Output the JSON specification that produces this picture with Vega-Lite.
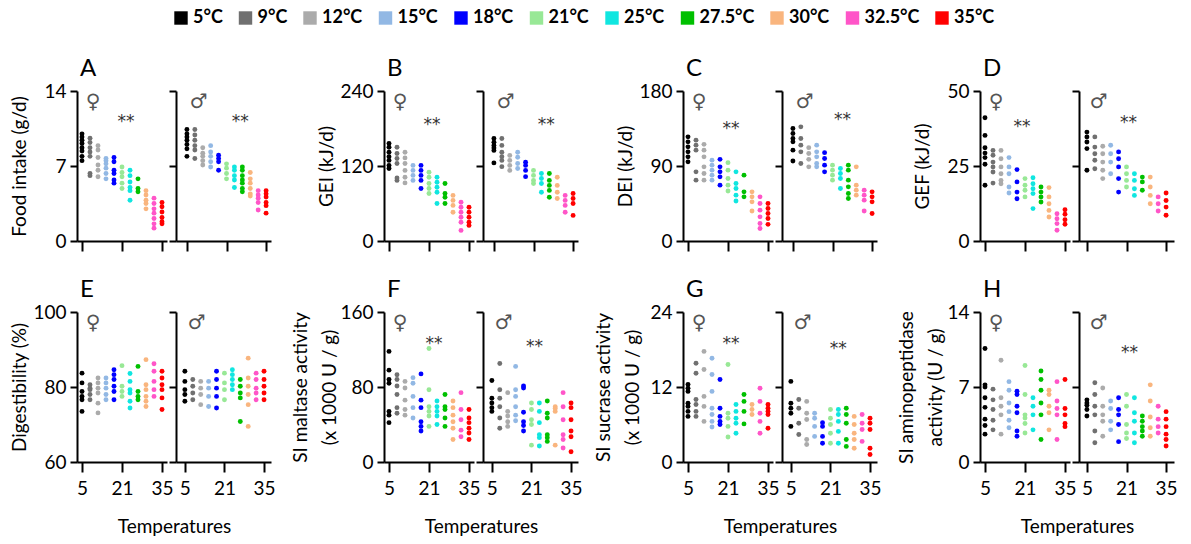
{
  "$schema": "https://vega.github.io/schema/vega-lite/v6.json",
  "background": "white",
  "padding": {"left": 10, "top": 9, "right": 5, "bottom": 5},
  "datasets": {
    "AF": [{"t":5,"v":10.0},{"t":5,"v":9.7},{"t":5,"v":9.4},{"t":5,"v":9.1},{"t":5,"v":8.7},{"t":5,"v":8.4},{"t":5,"v":7.9},{"t":5,"v":7.5},
      {"t":9,"v":9.6},{"t":9,"v":9.2},{"t":9,"v":8.7},{"t":9,"v":8.3},{"t":9,"v":7.9},{"t":9,"v":6.3},{"t":9,"v":6.1},
      {"t":12,"v":8.9},{"t":12,"v":8.5},{"t":12,"v":7.8},{"t":12,"v":7.1},{"t":12,"v":6.6},{"t":12,"v":6.0},
      {"t":15,"v":7.7},{"t":15,"v":7.5},{"t":15,"v":7.2},{"t":15,"v":6.8},{"t":15,"v":6.3},{"t":15,"v":5.8},
      {"t":18,"v":7.8},{"t":18,"v":7.4},{"t":18,"v":6.6},{"t":18,"v":6.3},{"t":18,"v":5.7},{"t":18,"v":5.4},
      {"t":21,"v":6.9},{"t":21,"v":6.4},{"t":21,"v":6.0},{"t":21,"v":5.4},{"t":21,"v":4.9},
      {"t":25,"v":6.6},{"t":25,"v":6.1},{"t":25,"v":5.5},{"t":25,"v":5.0},{"t":25,"v":4.7},{"t":25,"v":3.8},
      {"t":27.5,"v":5.8},{"t":27.5,"v":4.9},{"t":27.5,"v":4.6},
      {"t":30,"v":4.7},{"t":30,"v":4.3},{"t":30,"v":3.8},{"t":30,"v":3.5},{"t":30,"v":3.0},
      {"t":32.5,"v":4.0},{"t":32.5,"v":3.5},{"t":32.5,"v":3.0},{"t":32.5,"v":2.6},{"t":32.5,"v":2.1},{"t":32.5,"v":1.6},{"t":32.5,"v":1.2},
      {"t":35,"v":3.6},{"t":35,"v":3.2},{"t":35,"v":2.7},{"t":35,"v":2.2},{"t":35,"v":1.8},{"t":35,"v":1.6}],
    "AM": [{"t":5,"v":10.4},{"t":5,"v":10.0},{"t":5,"v":9.7},{"t":5,"v":9.4},{"t":5,"v":9.0},{"t":5,"v":8.6},{"t":5,"v":7.9},
      {"t":9,"v":10.4},{"t":9,"v":9.9},{"t":9,"v":9.4},{"t":9,"v":8.9},{"t":9,"v":8.5},{"t":9,"v":7.7},
      {"t":12,"v":8.7},{"t":12,"v":8.2},{"t":12,"v":7.9},{"t":12,"v":7.5},{"t":12,"v":7.1},
      {"t":15,"v":8.9},{"t":15,"v":8.3},{"t":15,"v":7.9},{"t":15,"v":7.4},{"t":15,"v":6.9},
      {"t":18,"v":8.0},{"t":18,"v":7.7},{"t":18,"v":7.4},{"t":18,"v":6.6},
      {"t":21,"v":7.2},{"t":21,"v":6.8},{"t":21,"v":6.3},{"t":21,"v":5.8},
      {"t":25,"v":6.9},{"t":25,"v":6.6},{"t":25,"v":6.1},{"t":25,"v":5.7},{"t":25,"v":5.0},
      {"t":27.5,"v":6.9},{"t":27.5,"v":6.6},{"t":27.5,"v":6.1},{"t":27.5,"v":5.7},{"t":27.5,"v":5.4},{"t":27.5,"v":4.9},{"t":27.5,"v":4.6},
      {"t":30,"v":6.4},{"t":30,"v":5.8},{"t":30,"v":5.4},{"t":30,"v":4.9},{"t":30,"v":4.4},{"t":30,"v":4.2},
      {"t":32.5,"v":4.7},{"t":32.5,"v":4.3},{"t":32.5,"v":4.0},{"t":32.5,"v":3.6},{"t":32.5,"v":2.9},
      {"t":35,"v":4.7},{"t":35,"v":4.4},{"t":35,"v":4.1},{"t":35,"v":3.6},{"t":35,"v":3.3},{"t":35,"v":2.6}],
    "BF": [{"t":5,"v":156},{"t":5,"v":150},{"t":5,"v":142},{"t":5,"v":135},{"t":5,"v":129},{"t":5,"v":121},{"t":5,"v":116},
      {"t":9,"v":150},{"t":9,"v":140},{"t":9,"v":132},{"t":9,"v":124},{"t":9,"v":101},{"t":9,"v":97},
      {"t":12,"v":142},{"t":12,"v":133},{"t":12,"v":124},{"t":12,"v":113},{"t":12,"v":102},{"t":12,"v":93},
      {"t":15,"v":121},{"t":15,"v":113},{"t":15,"v":105},{"t":15,"v":97},
      {"t":18,"v":121},{"t":18,"v":113},{"t":18,"v":105},{"t":18,"v":97},{"t":18,"v":84},
      {"t":21,"v":110},{"t":21,"v":102},{"t":21,"v":92},{"t":21,"v":84},{"t":21,"v":76},
      {"t":25,"v":102},{"t":25,"v":94},{"t":25,"v":86},{"t":25,"v":78},{"t":25,"v":60},
      {"t":27.5,"v":92},{"t":27.5,"v":76},{"t":27.5,"v":70},{"t":27.5,"v":60},
      {"t":30,"v":73},{"t":30,"v":65},{"t":30,"v":57},{"t":30,"v":46},
      {"t":32.5,"v":62},{"t":32.5,"v":54},{"t":32.5,"v":46},{"t":32.5,"v":38},{"t":32.5,"v":30},{"t":32.5,"v":17},
      {"t":35,"v":54},{"t":35,"v":46},{"t":35,"v":38},{"t":35,"v":30},{"t":35,"v":25}],
    "BM": [{"t":5,"v":164},{"t":5,"v":158},{"t":5,"v":153},{"t":5,"v":149},{"t":5,"v":145},{"t":5,"v":125},
      {"t":9,"v":164},{"t":9,"v":153},{"t":9,"v":142},{"t":9,"v":135},{"t":9,"v":129},{"t":9,"v":119},
      {"t":12,"v":137},{"t":12,"v":129},{"t":12,"v":121},{"t":12,"v":113},
      {"t":15,"v":142},{"t":15,"v":134},{"t":15,"v":124},{"t":15,"v":116},
      {"t":18,"v":126},{"t":18,"v":121},{"t":18,"v":113},{"t":18,"v":103},
      {"t":21,"v":113},{"t":21,"v":105},{"t":21,"v":97},{"t":21,"v":92},
      {"t":25,"v":108},{"t":25,"v":100},{"t":25,"v":92},{"t":25,"v":78},
      {"t":27.5,"v":108},{"t":27.5,"v":97},{"t":27.5,"v":89},{"t":27.5,"v":81},{"t":27.5,"v":70},
      {"t":30,"v":102},{"t":30,"v":89},{"t":30,"v":78},{"t":30,"v":68},
      {"t":32.5,"v":73},{"t":32.5,"v":65},{"t":32.5,"v":57},{"t":32.5,"v":46},
      {"t":35,"v":76},{"t":35,"v":68},{"t":35,"v":60},{"t":35,"v":41}],
    "CF": [{"t":5,"v":125},{"t":5,"v":119},{"t":5,"v":113},{"t":5,"v":107},{"t":5,"v":101},{"t":5,"v":95},
      {"t":9,"v":121},{"t":9,"v":115},{"t":9,"v":109},{"t":9,"v":83},{"t":9,"v":73},
      {"t":12,"v":116},{"t":12,"v":109},{"t":12,"v":101},{"t":12,"v":89},{"t":12,"v":81},{"t":12,"v":73},
      {"t":15,"v":97},{"t":15,"v":91},{"t":15,"v":85},{"t":15,"v":79},{"t":15,"v":73},
      {"t":18,"v":98},{"t":18,"v":89},{"t":18,"v":83},{"t":18,"v":77},{"t":18,"v":67},
      {"t":21,"v":94},{"t":21,"v":85},{"t":21,"v":75},{"t":21,"v":67},{"t":21,"v":60},
      {"t":25,"v":83},{"t":25,"v":69},{"t":25,"v":63},{"t":25,"v":55},{"t":25,"v":48},
      {"t":27.5,"v":79},{"t":27.5,"v":59},{"t":27.5,"v":53},
      {"t":30,"v":59},{"t":30,"v":53},{"t":30,"v":47},{"t":30,"v":36},
      {"t":32.5,"v":53},{"t":32.5,"v":45},{"t":32.5,"v":37},{"t":32.5,"v":29},{"t":32.5,"v":21},{"t":32.5,"v":15},
      {"t":35,"v":45},{"t":35,"v":39},{"t":35,"v":33},{"t":35,"v":27},{"t":35,"v":20}],
    "CM": [{"t":5,"v":135},{"t":5,"v":129},{"t":5,"v":123},{"t":5,"v":119},{"t":5,"v":109},{"t":5,"v":96},
      {"t":9,"v":137},{"t":9,"v":123},{"t":9,"v":115},{"t":9,"v":107},{"t":9,"v":93},
      {"t":12,"v":112},{"t":12,"v":105},{"t":12,"v":98},{"t":12,"v":89},
      {"t":15,"v":115},{"t":15,"v":107},{"t":15,"v":101},{"t":15,"v":93},{"t":15,"v":89},
      {"t":18,"v":106},{"t":18,"v":99},{"t":18,"v":91},{"t":18,"v":83},
      {"t":21,"v":91},{"t":21,"v":85},{"t":21,"v":79},{"t":21,"v":73},
      {"t":25,"v":87},{"t":25,"v":81},{"t":25,"v":75},{"t":25,"v":63},
      {"t":27.5,"v":91},{"t":27.5,"v":85},{"t":27.5,"v":73},{"t":27.5,"v":65},{"t":27.5,"v":57},{"t":27.5,"v":51},
      {"t":30,"v":89},{"t":30,"v":67},{"t":30,"v":61},{"t":30,"v":55},
      {"t":32.5,"v":61},{"t":32.5,"v":55},{"t":32.5,"v":49},{"t":32.5,"v":36},
      {"t":35,"v":59},{"t":35,"v":53},{"t":35,"v":47},{"t":35,"v":33}],
    "DF": [{"t":5,"v":41.1},{"t":5,"v":35.2},{"t":5,"v":31.1},{"t":5,"v":29.3},{"t":5,"v":27.8},{"t":5,"v":25.6},{"t":5,"v":18.6},
      {"t":9,"v":30.2},{"t":9,"v":28.6},{"t":9,"v":26.3},{"t":9,"v":24.7},{"t":9,"v":23.0},{"t":9,"v":19.3},
      {"t":12,"v":30.2},{"t":12,"v":27.4},{"t":12,"v":24.7},{"t":12,"v":22.4},{"t":12,"v":20.2},{"t":12,"v":19.1},
      {"t":15,"v":27.8},{"t":15,"v":24.7},{"t":15,"v":22.4},{"t":15,"v":18.0},{"t":15,"v":16.0},
      {"t":18,"v":23.8},{"t":18,"v":19.7},{"t":18,"v":16.3},{"t":18,"v":14.1},
      {"t":21,"v":20.8},{"t":21,"v":18.6},{"t":21,"v":16.9},{"t":21,"v":14.7},
      {"t":25,"v":21.1},{"t":25,"v":19.1},{"t":25,"v":17.4},{"t":25,"v":15.8},{"t":25,"v":10.8},
      {"t":27.5,"v":18.0},{"t":27.5,"v":16.3},{"t":27.5,"v":14.7},{"t":27.5,"v":13.0},
      {"t":30,"v":17.8},{"t":30,"v":14.7},{"t":30,"v":12.4},{"t":30,"v":10.2},{"t":30,"v":8.0},
      {"t":32.5,"v":9.1},{"t":32.5,"v":7.4},{"t":32.5,"v":5.8},{"t":32.5,"v":3.6},
      {"t":35,"v":10.4},{"t":35,"v":8.9},{"t":35,"v":7.1},{"t":35,"v":5.6}],
    "DM": [{"t":5,"v":36.3},{"t":5,"v":34.7},{"t":5,"v":33.0},{"t":5,"v":30.8},{"t":5,"v":23.6},
      {"t":9,"v":34.7},{"t":9,"v":31.3},{"t":9,"v":29.1},{"t":9,"v":26.9},{"t":9,"v":24.1},
      {"t":12,"v":31.6},{"t":12,"v":29.1},{"t":12,"v":26.3},{"t":12,"v":23.6},{"t":12,"v":20.8},
      {"t":15,"v":31.9},{"t":15,"v":29.1},{"t":15,"v":26.3},{"t":15,"v":22.4},
      {"t":18,"v":29.7},{"t":18,"v":27.4},{"t":18,"v":24.7},{"t":18,"v":20.8},{"t":18,"v":16.3},
      {"t":21,"v":24.7},{"t":21,"v":22.4},{"t":21,"v":20.2},{"t":21,"v":18.0},
      {"t":25,"v":22.4},{"t":25,"v":20.2},{"t":25,"v":17.4},{"t":25,"v":15.2},
      {"t":27.5,"v":21.3},{"t":27.5,"v":19.7},{"t":27.5,"v":16.9},
      {"t":30,"v":21.3},{"t":30,"v":18.0},{"t":30,"v":15.2},{"t":30,"v":12.4},
      {"t":32.5,"v":14.7},{"t":32.5,"v":12.4},{"t":32.5,"v":10.0},
      {"t":35,"v":16.0},{"t":35,"v":13.5},{"t":35,"v":11.3},{"t":35,"v":8.6}],
    "EF": [{"t":5,"v":83.7},{"t":5,"v":81.1},{"t":5,"v":78.8},{"t":5,"v":77.5},{"t":5,"v":76.6},{"t":5,"v":73.5},
      {"t":9,"v":80.6},{"t":9,"v":79.7},{"t":9,"v":79.3},{"t":9,"v":78.0},{"t":9,"v":76.6},
      {"t":12,"v":82.4},{"t":12,"v":81.1},{"t":12,"v":79.7},{"t":12,"v":78.4},{"t":12,"v":75.7},{"t":12,"v":73.1},
      {"t":15,"v":82.4},{"t":15,"v":81.1},{"t":15,"v":79.7},{"t":15,"v":78.0},{"t":15,"v":76.6},
      {"t":18,"v":84.6},{"t":18,"v":83.3},{"t":18,"v":82.0},{"t":18,"v":80.2},{"t":18,"v":78.8},{"t":18,"v":76.6},
      {"t":21,"v":85.7},{"t":21,"v":80.2},{"t":21,"v":78.8},{"t":21,"v":77.5},
      {"t":25,"v":83.6},{"t":25,"v":81.5},{"t":25,"v":79.3},{"t":25,"v":78.4},{"t":25,"v":76.2},{"t":25,"v":74.4},
      {"t":27.5,"v":85.5},{"t":27.5,"v":78.8},{"t":27.5,"v":77.5},{"t":27.5,"v":76.6},
      {"t":30,"v":87.3},{"t":30,"v":80.6},{"t":30,"v":79.3},{"t":30,"v":77.5},{"t":30,"v":76.2},{"t":30,"v":74.8},
      {"t":32.5,"v":86.2},{"t":32.5,"v":84.2},{"t":32.5,"v":81.5},{"t":32.5,"v":79.3},{"t":32.5,"v":77.5},
      {"t":35,"v":84.2},{"t":35,"v":82.4},{"t":35,"v":80.6},{"t":35,"v":79.3},{"t":35,"v":77.1},{"t":35,"v":74.0}],
    "EM": [{"t":5,"v":84.2},{"t":5,"v":81.5},{"t":5,"v":79.3},{"t":5,"v":78.0},{"t":5,"v":76.2},
      {"t":9,"v":82.0},{"t":9,"v":80.2},{"t":9,"v":78.4},{"t":9,"v":76.6},
      {"t":12,"v":81.5},{"t":12,"v":79.7},{"t":12,"v":78.0},{"t":12,"v":75.3},
      {"t":15,"v":81.5},{"t":15,"v":79.7},{"t":15,"v":77.5},{"t":15,"v":74.8},
      {"t":18,"v":84.2},{"t":18,"v":82.0},{"t":18,"v":79.7},{"t":18,"v":77.5},{"t":18,"v":74.4},
      {"t":21,"v":83.7},{"t":21,"v":81.1},{"t":21,"v":79.3},{"t":21,"v":76.6},
      {"t":25,"v":84.6},{"t":25,"v":83.3},{"t":25,"v":82.0},{"t":25,"v":80.6},{"t":25,"v":79.3},
      {"t":27.5,"v":82.0},{"t":27.5,"v":80.2},{"t":27.5,"v":78.4},{"t":27.5,"v":77.1},{"t":27.5,"v":70.8},
      {"t":30,"v":87.7},{"t":30,"v":82.4},{"t":30,"v":80.2},{"t":30,"v":78.0},{"t":30,"v":75.3},{"t":30,"v":69.5},
      {"t":32.5,"v":83.7},{"t":32.5,"v":82.0},{"t":32.5,"v":79.7},{"t":32.5,"v":78.4},{"t":32.5,"v":76.6},
      {"t":35,"v":84.2},{"t":35,"v":82.0},{"t":35,"v":80.2},{"t":35,"v":78.4},{"t":35,"v":76.6}],
    "FF": [{"t":5,"v":118},{"t":5,"v":98},{"t":5,"v":88},{"t":5,"v":84},{"t":5,"v":54},{"t":5,"v":50},{"t":5,"v":42},
      {"t":9,"v":93},{"t":9,"v":88},{"t":9,"v":81},{"t":9,"v":72},{"t":9,"v":58},{"t":9,"v":52},
      {"t":12,"v":86},{"t":12,"v":79},{"t":12,"v":66},{"t":12,"v":56},{"t":12,"v":50},
      {"t":15,"v":90},{"t":15,"v":84},{"t":15,"v":70},{"t":15,"v":58},{"t":15,"v":47},
      {"t":18,"v":94},{"t":18,"v":66},{"t":18,"v":58},{"t":18,"v":43},{"t":18,"v":38},{"t":18,"v":33},
      {"t":21,"v":121},{"t":21,"v":77},{"t":21,"v":59},{"t":21,"v":54},{"t":21,"v":49},{"t":21,"v":38},
      {"t":25,"v":65},{"t":25,"v":59},{"t":25,"v":54},{"t":25,"v":49},{"t":25,"v":40},
      {"t":27.5,"v":72},{"t":27.5,"v":59},{"t":27.5,"v":56},{"t":27.5,"v":47},{"t":27.5,"v":38},
      {"t":30,"v":65},{"t":30,"v":58},{"t":30,"v":50},{"t":30,"v":43},{"t":30,"v":36},{"t":30,"v":24},
      {"t":32.5,"v":74},{"t":32.5,"v":56},{"t":32.5,"v":45},{"t":32.5,"v":34},{"t":32.5,"v":27},
      {"t":35,"v":56},{"t":35,"v":47},{"t":35,"v":42},{"t":35,"v":36},{"t":35,"v":31},{"t":35,"v":24}],
    "FM": [{"t":5,"v":87},{"t":5,"v":68},{"t":5,"v":63},{"t":5,"v":58},{"t":5,"v":54},
      {"t":9,"v":105},{"t":9,"v":77},{"t":9,"v":68},{"t":9,"v":59},{"t":9,"v":47},{"t":9,"v":36},
      {"t":12,"v":74},{"t":12,"v":54},{"t":12,"v":49},{"t":12,"v":43},{"t":12,"v":38},
      {"t":15,"v":102},{"t":15,"v":77},{"t":15,"v":70},{"t":15,"v":59},{"t":15,"v":50},{"t":15,"v":44},
      {"t":18,"v":81},{"t":18,"v":79},{"t":18,"v":53},{"t":18,"v":43},{"t":18,"v":39},{"t":18,"v":33},
      {"t":21,"v":63},{"t":21,"v":56},{"t":21,"v":45},{"t":21,"v":40},{"t":21,"v":18},
      {"t":25,"v":63},{"t":25,"v":54},{"t":25,"v":42},{"t":25,"v":29},{"t":25,"v":26},{"t":25,"v":17},
      {"t":27.5,"v":65},{"t":27.5,"v":52},{"t":27.5,"v":47},{"t":27.5,"v":29},{"t":27.5,"v":26},{"t":27.5,"v":22},
      {"t":30,"v":59},{"t":30,"v":57},{"t":30,"v":54},{"t":30,"v":18},
      {"t":32.5,"v":74},{"t":32.5,"v":59},{"t":32.5,"v":45},{"t":32.5,"v":29},{"t":32.5,"v":24},{"t":32.5,"v":15},
      {"t":35,"v":63},{"t":35,"v":58},{"t":35,"v":45},{"t":35,"v":33},{"t":35,"v":27},{"t":35,"v":11}],
    "GF": [{"t":5,"v":12.4},{"t":5,"v":11.8},{"t":5,"v":11.3},{"t":5,"v":9.4},{"t":5,"v":8.9},{"t":5,"v":8.1},{"t":5,"v":7.3},
      {"t":9,"v":15.8},{"t":9,"v":14.2},{"t":9,"v":10.0},{"t":9,"v":9.2},{"t":9,"v":8.1},{"t":9,"v":7.3},
      {"t":12,"v":17.7},{"t":12,"v":14.8},{"t":12,"v":10.5},{"t":12,"v":8.9},{"t":12,"v":6.5},
      {"t":15,"v":16.6},{"t":15,"v":14.0},{"t":15,"v":11.3},{"t":15,"v":8.6},{"t":15,"v":7.6},{"t":15,"v":6.5},{"t":15,"v":5.6},
      {"t":18,"v":13.2},{"t":18,"v":8.6},{"t":18,"v":7.3},{"t":18,"v":6.5},{"t":18,"v":6.0},
      {"t":21,"v":15.6},{"t":21,"v":7.8},{"t":21,"v":7.0},{"t":21,"v":5.7},{"t":21,"v":4.0},
      {"t":25,"v":9.2},{"t":25,"v":8.1},{"t":25,"v":7.0},{"t":25,"v":6.2},{"t":25,"v":4.6},
      {"t":27.5,"v":10.8},{"t":27.5,"v":9.7},{"t":27.5,"v":8.1},{"t":27.5,"v":6.1},
      {"t":30,"v":9.2},{"t":30,"v":8.4},{"t":30,"v":7.6},
      {"t":32.5,"v":11.8},{"t":32.5,"v":9.7},{"t":32.5,"v":7.8},{"t":32.5,"v":6.5},{"t":32.5,"v":4.6},
      {"t":35,"v":9.2},{"t":35,"v":8.6},{"t":35,"v":8.1},{"t":35,"v":7.6},{"t":35,"v":5.4}],
    "GM": [{"t":5,"v":12.9},{"t":5,"v":9.4},{"t":5,"v":8.6},{"t":5,"v":7.8},{"t":5,"v":5.7},
      {"t":9,"v":10.0},{"t":9,"v":8.6},{"t":9,"v":6.2},{"t":9,"v":4.4},
      {"t":12,"v":9.7},{"t":12,"v":7.8},{"t":12,"v":6.8},{"t":12,"v":3.6},{"t":12,"v":2.8},
      {"t":15,"v":7.8},{"t":15,"v":7.0},{"t":15,"v":5.7},{"t":15,"v":4.1},
      {"t":18,"v":6.3},{"t":18,"v":5.7},{"t":18,"v":4.1},{"t":18,"v":3.0},
      {"t":21,"v":8.4},{"t":21,"v":7.0},{"t":21,"v":6.0},{"t":21,"v":4.6},{"t":21,"v":3.0},
      {"t":25,"v":8.4},{"t":25,"v":7.6},{"t":25,"v":6.5},{"t":25,"v":4.9},{"t":25,"v":3.0},
      {"t":27.5,"v":8.6},{"t":27.5,"v":7.6},{"t":27.5,"v":6.2},{"t":27.5,"v":3.6},{"t":27.5,"v":2.5},
      {"t":30,"v":7.3},{"t":30,"v":6.0},{"t":30,"v":4.6},{"t":30,"v":3.6},{"t":30,"v":2.2},
      {"t":32.5,"v":7.6},{"t":32.5,"v":6.2},{"t":32.5,"v":5.2},{"t":32.5,"v":3.3},
      {"t":35,"v":7.0},{"t":35,"v":6.2},{"t":35,"v":5.2},{"t":35,"v":2.2},{"t":35,"v":1.2}],
    "HF": [{"t":5,"v":10.6},{"t":5,"v":7.2},{"t":5,"v":7.0},{"t":5,"v":6.0},{"t":5,"v":5.1},{"t":5,"v":4.0},{"t":5,"v":3.4},{"t":5,"v":2.6},
      {"t":9,"v":6.8},{"t":9,"v":5.8},{"t":9,"v":4.9},{"t":9,"v":3.9},{"t":9,"v":3.0},
      {"t":12,"v":9.5},{"t":12,"v":6.0},{"t":12,"v":5.2},{"t":12,"v":4.4},{"t":12,"v":2.6},
      {"t":15,"v":7.5},{"t":15,"v":6.7},{"t":15,"v":5.5},{"t":15,"v":4.7},{"t":15,"v":3.9},{"t":15,"v":3.2},
      {"t":18,"v":6.6},{"t":18,"v":6.3},{"t":18,"v":5.2},{"t":18,"v":4.6},{"t":18,"v":2.9},{"t":18,"v":2.4},
      {"t":21,"v":9.0},{"t":21,"v":6.3},{"t":21,"v":4.4},{"t":21,"v":4.1},{"t":21,"v":3.6},{"t":21,"v":2.7},
      {"t":25,"v":6.0},{"t":25,"v":5.2},{"t":25,"v":4.4},{"t":25,"v":3.0},
      {"t":27.5,"v":8.5},{"t":27.5,"v":7.7},{"t":27.5,"v":6.7},{"t":27.5,"v":5.5},{"t":27.5,"v":4.4},{"t":27.5,"v":2.1},
      {"t":30,"v":6.7},{"t":30,"v":6.3},{"t":30,"v":5.2},{"t":30,"v":4.6},{"t":30,"v":3.0},
      {"t":32.5,"v":7.5},{"t":32.5,"v":5.7},{"t":32.5,"v":5.0},{"t":32.5,"v":4.4},{"t":32.5,"v":2.1},
      {"t":35,"v":7.7},{"t":35,"v":5.0},{"t":35,"v":4.4},{"t":35,"v":3.6},{"t":35,"v":3.3}],
    "HM": [{"t":5,"v":5.8},{"t":5,"v":5.5},{"t":5,"v":5.3},{"t":5,"v":4.9},{"t":5,"v":4.3},
      {"t":9,"v":7.4},{"t":9,"v":6.3},{"t":9,"v":5.2},{"t":9,"v":4.4},{"t":9,"v":2.9},{"t":9,"v":1.8},
      {"t":12,"v":6.9},{"t":12,"v":5.2},{"t":12,"v":4.4},{"t":12,"v":3.8},{"t":12,"v":2.4},
      {"t":15,"v":5.7},{"t":15,"v":5.0},{"t":15,"v":3.8},{"t":15,"v":3.0},
      {"t":18,"v":6.0},{"t":18,"v":4.9},{"t":18,"v":4.4},{"t":18,"v":3.5},{"t":18,"v":1.9},
      {"t":21,"v":6.3},{"t":21,"v":5.2},{"t":21,"v":3.5},{"t":21,"v":2.7},{"t":21,"v":2.2},
      {"t":25,"v":6.0},{"t":25,"v":4.6},{"t":25,"v":3.8},{"t":25,"v":2.7},{"t":25,"v":1.8},
      {"t":27.5,"v":4.3},{"t":27.5,"v":3.8},{"t":27.5,"v":3.3},{"t":27.5,"v":2.9},{"t":27.5,"v":2.4},
      {"t":30,"v":7.2},{"t":30,"v":5.7},{"t":30,"v":4.2},{"t":30,"v":3.2},{"t":30,"v":2.4},
      {"t":32.5,"v":5.2},{"t":32.5,"v":4.0},{"t":32.5,"v":3.3},{"t":32.5,"v":2.7},
      {"t":35,"v":4.7},{"t":35,"v":4.0},{"t":35,"v":3.3},{"t":35,"v":2.6},{"t":35,"v":2.1},{"t":35,"v":1.5}]
  },
  "columns": 15,
  "spacing": {"row": 71, "column": 0},
  "bounds": "flush",
  "align": "each",
  "concat": [
    {"width": 90, "height": 150, "title": "A", "layer": [
      {"data": {"name": "AF"}, "mark": "point", "encoding": {
        "x": {"field": "t", "type": "ordinal", "axis": {"values": [5, 21, 35], "labels": false, "title": null}},
        "y": {"field": "v", "type": "quantitative", "scale": {"domain": [0, 14]}, "axis": {"values": [0, 7, 14], "title": "Food intake (g/d)"}},
        "color": {"field": "t", "type": "ordinal", "legend": {"orient": "none", "legendX": 95, "legendY": -82, "direction": "horizontal", "title": null, "labelExpr": "datum.label + '°C'"}}}},
      {"data": {"values": [{}]}, "mark": {"type": "text", "text": "♀", "dx": 3}, "encoding": {"x": {"datum": 9, "type": "ordinal"}, "y": {"datum": 13, "type": "quantitative"}}},
      {"data": {"values": [{}]}, "mark": {"type": "text", "text": "**", "dx": 4, "dy": 5, "fontSize": 17, "color": "#333333"}, "encoding": {"x": {"datum": 21, "type": "ordinal"}, "y": {"datum": 11.55, "type": "quantitative"}}}
    ]},
    {"width": 9, "height": 150, "data": {"values": []}, "mark": "point"},
    {"width": 95, "height": 150, "layer": [
      {"data": {"name": "AM"}, "mark": "point", "encoding": {
        "x": {"field": "t", "type": "ordinal", "scale": {"padding": 1.0, "align": 0.69}, "axis": {"values": [5, 21, 35], "labels": false, "title": null}},
        "y": {"field": "v", "type": "quantitative", "scale": {"domain": [0, 14]}, "axis": {"values": [0, 7, 14], "labels": false, "title": null}},
        "color": {"field": "t", "type": "ordinal", "legend": {"orient": "none", "legendX": 95, "legendY": -82, "direction": "horizontal", "title": null, "labelExpr": "datum.label + '°C'"}}}},
      {"data": {"values": [{}]}, "mark": {"type": "text", "text": "♂", "dx": 4}, "encoding": {"x": {"datum": 9, "type": "ordinal"}, "y": {"datum": 13, "type": "quantitative"}}},
      {"data": {"values": [{}]}, "mark": {"type": "text", "text": "**", "dx": -2, "dy": 5, "fontSize": 17, "color": "#333333"}, "encoding": {"x": {"datum": 27.5, "type": "ordinal"}, "y": {"datum": 11.55, "type": "quantitative"}}}
    ]},
    {"width": 113, "height": 150, "data": {"values": []}, "mark": "point"},
    {"width": 90, "height": 150, "title": "B", "layer": [
      {"data": {"name": "BF"}, "mark": "point", "encoding": {
        "x": {"field": "t", "type": "ordinal", "axis": {"values": [5, 21, 35], "labels": false, "title": null}},
        "y": {"field": "v", "type": "quantitative", "scale": {"domain": [0, 240]}, "axis": {"values": [0, 120, 240], "title": "GEI (kJ/d)"}},
        "color": {"field": "t", "type": "ordinal", "legend": {"orient": "none", "legendX": 95, "legendY": -82, "direction": "horizontal", "title": null, "labelExpr": "datum.label + '°C'"}}}},
      {"data": {"values": [{}]}, "mark": {"type": "text", "text": "♀", "dx": 3}, "encoding": {"x": {"datum": 9, "type": "ordinal"}, "y": {"datum": 223, "type": "quantitative"}}},
      {"data": {"values": [{}]}, "mark": {"type": "text", "text": "**", "dx": 3, "dy": 5, "fontSize": 17, "color": "#333333"}, "encoding": {"x": {"datum": 21, "type": "ordinal"}, "y": {"datum": 193, "type": "quantitative"}}}
    ]},
    {"width": 9, "height": 150, "data": {"values": []}, "mark": "point"},
    {"width": 95, "height": 150, "layer": [
      {"data": {"name": "BM"}, "mark": "point", "encoding": {
        "x": {"field": "t", "type": "ordinal", "scale": {"padding": 1.0, "align": 0.69}, "axis": {"values": [5, 21, 35], "labels": false, "title": null}},
        "y": {"field": "v", "type": "quantitative", "scale": {"domain": [0, 240]}, "axis": {"values": [0, 120, 240], "labels": false, "title": null}},
        "color": {"field": "t", "type": "ordinal", "legend": {"orient": "none", "legendX": 95, "legendY": -82, "direction": "horizontal", "title": null, "labelExpr": "datum.label + '°C'"}}}},
      {"data": {"values": [{}]}, "mark": {"type": "text", "text": "♂", "dx": 4}, "encoding": {"x": {"datum": 9, "type": "ordinal"}, "y": {"datum": 223, "type": "quantitative"}}},
      {"data": {"values": [{}]}, "mark": {"type": "text", "text": "**", "dx": -3, "dy": 5, "fontSize": 17, "color": "#333333"}, "encoding": {"x": {"datum": 27.5, "type": "ordinal"}, "y": {"datum": 193, "type": "quantitative"}}}
    ]},
    {"width": 105, "height": 150, "data": {"values": []}, "mark": "point"},
    {"width": 90, "height": 150, "title": "C", "layer": [
      {"data": {"name": "CF"}, "mark": "point", "encoding": {
        "x": {"field": "t", "type": "ordinal", "axis": {"values": [5, 21, 35], "labels": false, "title": null}},
        "y": {"field": "v", "type": "quantitative", "scale": {"domain": [0, 180]}, "axis": {"values": [0, 90, 180], "title": "DEI (kJ/d)"}},
        "color": {"field": "t", "type": "ordinal", "legend": {"orient": "none", "legendX": 95, "legendY": -82, "direction": "horizontal", "title": null, "labelExpr": "datum.label + '°C'"}}}},
      {"data": {"values": [{}]}, "mark": {"type": "text", "text": "♀", "dx": 3}, "encoding": {"x": {"datum": 9, "type": "ordinal"}, "y": {"datum": 167, "type": "quantitative"}}},
      {"data": {"values": [{}]}, "mark": {"type": "text", "text": "**", "dx": 3, "dy": 5, "fontSize": 17, "color": "#333333"}, "encoding": {"x": {"datum": 21, "type": "ordinal"}, "y": {"datum": 141, "type": "quantitative"}}}
    ]},
    {"width": 9, "height": 150, "data": {"values": []}, "mark": "point"},
    {"width": 95, "height": 150, "layer": [
      {"data": {"name": "CM"}, "mark": "point", "encoding": {
        "x": {"field": "t", "type": "ordinal", "scale": {"padding": 1.0, "align": 0.69}, "axis": {"values": [5, 21, 35], "labels": false, "title": null}},
        "y": {"field": "v", "type": "quantitative", "scale": {"domain": [0, 180]}, "axis": {"values": [0, 90, 180], "labels": false, "title": null}},
        "color": {"field": "t", "type": "ordinal", "legend": {"orient": "none", "legendX": 95, "legendY": -82, "direction": "horizontal", "title": null, "labelExpr": "datum.label + '°C'"}}}},
      {"data": {"values": [{}]}, "mark": {"type": "text", "text": "♂", "dx": 4}, "encoding": {"x": {"datum": 9, "type": "ordinal"}, "y": {"datum": 167, "type": "quantitative"}}},
      {"data": {"values": [{}]}, "mark": {"type": "text", "text": "**", "dx": 2, "dy": 5, "fontSize": 17, "color": "#333333"}, "encoding": {"x": {"datum": 25, "type": "ordinal"}, "y": {"datum": 151, "type": "quantitative"}}}
    ]},
    {"width": 103, "height": 150, "data": {"values": []}, "mark": "point"},
    {"width": 90, "height": 150, "title": "D", "layer": [
      {"data": {"name": "DF"}, "mark": "point", "encoding": {
        "x": {"field": "t", "type": "ordinal", "axis": {"values": [5, 21, 35], "labels": false, "title": null}},
        "y": {"field": "v", "type": "quantitative", "scale": {"domain": [0, 50]}, "axis": {"values": [0, 25, 50], "title": "GEF (kJ/d)"}},
        "color": {"field": "t", "type": "ordinal", "legend": {"orient": "none", "legendX": 95, "legendY": -82, "direction": "horizontal", "title": null, "labelExpr": "datum.label + '°C'"}}}},
      {"data": {"values": [{}]}, "mark": {"type": "text", "text": "♀", "dx": 3}, "encoding": {"x": {"datum": 9, "type": "ordinal"}, "y": {"datum": 46.4, "type": "quantitative"}}},
      {"data": {"values": [{}]}, "mark": {"type": "text", "text": "**", "dx": -3, "dy": 5, "fontSize": 17, "color": "#333333"}, "encoding": {"x": {"datum": 21, "type": "ordinal"}, "y": {"datum": 39.6, "type": "quantitative"}}}
    ]},
    {"width": 9, "height": 150, "data": {"values": []}, "mark": "point"},
    {"width": 95, "height": 150, "layer": [
      {"data": {"name": "DM"}, "mark": "point", "encoding": {
        "x": {"field": "t", "type": "ordinal", "scale": {"padding": 1.0, "align": 0.5}, "axis": {"values": [5, 21, 35], "labels": false, "title": null}},
        "y": {"field": "v", "type": "quantitative", "scale": {"domain": [0, 50]}, "axis": {"values": [0, 25, 50], "labels": false, "title": null}},
        "color": {"field": "t", "type": "ordinal", "legend": {"orient": "none", "legendX": 95, "legendY": -82, "direction": "horizontal", "title": null, "labelExpr": "datum.label + '°C'"}}}},
      {"data": {"values": [{}]}, "mark": {"type": "text", "text": "♂", "dx": 4}, "encoding": {"x": {"datum": 9, "type": "ordinal"}, "y": {"datum": 46.4, "type": "quantitative"}}},
      {"data": {"values": [{}]}, "mark": {"type": "text", "text": "**", "dx": 2, "dy": 5, "fontSize": 17, "color": "#333333"}, "encoding": {"x": {"datum": 21, "type": "ordinal"}, "y": {"datum": 40.9, "type": "quantitative"}}}
    ]},

    {"width": 90, "height": 150, "title": "E", "layer": [
      {"data": {"name": "EF"}, "mark": "point", "encoding": {
        "x": {"field": "t", "type": "ordinal", "axis": {"values": [5, 21, 35], "title": "Temperatures", "titleX": 97, "titlePadding": 19}},
        "y": {"field": "v", "type": "quantitative", "scale": {"domain": [60, 100]}, "axis": {"values": [60, 80, 100], "title": "Digestibility (%)"}},
        "color": {"field": "t", "type": "ordinal", "legend": {"orient": "none", "legendX": 95, "legendY": -82, "direction": "horizontal", "title": null, "labelExpr": "datum.label + '°C'"}}}},
      {"data": {"values": [{}]}, "mark": {"type": "text", "text": "♀", "dx": 3}, "encoding": {"x": {"datum": 9, "type": "ordinal"}, "y": {"datum": 97.1, "type": "quantitative"}}}
    ]},
    {"width": 9, "height": 150, "data": {"values": []}, "mark": "point"},
    {"width": 95, "height": 150, "layer": [
      {"data": {"name": "EM"}, "mark": "point", "encoding": {
        "x": {"field": "t", "type": "ordinal", "scale": {"padding": 1.0, "align": 0.56}, "axis": {"values": [5, 21, 35], "title": null}},
        "y": {"field": "v", "type": "quantitative", "scale": {"domain": [60, 100]}, "axis": {"values": [60, 80, 100], "labels": false, "title": null}},
        "color": {"field": "t", "type": "ordinal", "legend": {"orient": "none", "legendX": 95, "legendY": -82, "direction": "horizontal", "title": null, "labelExpr": "datum.label + '°C'"}}}},
      {"data": {"values": [{}]}, "mark": {"type": "text", "text": "♂", "dx": 4}, "encoding": {"x": {"datum": 9, "type": "ordinal"}, "y": {"datum": 97.1, "type": "quantitative"}}}
    ]},
    {"width": 113, "height": 150, "data": {"values": []}, "mark": "point"},
    {"width": 90, "height": 150, "title": "F", "layer": [
      {"data": {"name": "FF"}, "mark": "point", "encoding": {
        "x": {"field": "t", "type": "ordinal", "axis": {"values": [5, 21, 35], "title": "Temperatures", "titleX": 97, "titlePadding": 19}},
        "y": {"field": "v", "type": "quantitative", "scale": {"domain": [0, 160]}, "axis": {"values": [0, 80, 160], "title": ["SI maltase activity", "(x 1000 U / g)"], "titlePadding": 2}},
        "color": {"field": "t", "type": "ordinal", "legend": {"orient": "none", "legendX": 95, "legendY": -82, "direction": "horizontal", "title": null, "labelExpr": "datum.label + '°C'"}}}},
      {"data": {"values": [{}]}, "mark": {"type": "text", "text": "♀", "dx": 3}, "encoding": {"x": {"datum": 9, "type": "ordinal"}, "y": {"datum": 148.5, "type": "quantitative"}}},
      {"data": {"values": [{}]}, "mark": {"type": "text", "text": "**", "dx": -3, "dy": 5, "fontSize": 17, "color": "#333333"}, "encoding": {"x": {"datum": 25, "type": "ordinal"}, "y": {"datum": 131, "type": "quantitative"}}}
    ]},
    {"width": 9, "height": 150, "data": {"values": []}, "mark": "point"},
    {"width": 95, "height": 150, "layer": [
      {"data": {"name": "FM"}, "mark": "point", "encoding": {
        "x": {"field": "t", "type": "ordinal", "scale": {"padding": 1.0, "align": 0.56}, "axis": {"values": [5, 21, 35], "title": null}},
        "y": {"field": "v", "type": "quantitative", "scale": {"domain": [0, 160]}, "axis": {"values": [0, 80, 160], "labels": false, "title": null}},
        "color": {"field": "t", "type": "ordinal", "legend": {"orient": "none", "legendX": 95, "legendY": -82, "direction": "horizontal", "title": null, "labelExpr": "datum.label + '°C'"}}}},
      {"data": {"values": [{}]}, "mark": {"type": "text", "text": "♂", "dx": 4}, "encoding": {"x": {"datum": 9, "type": "ordinal"}, "y": {"datum": 148.5, "type": "quantitative"}}},
      {"data": {"values": [{}]}, "mark": {"type": "text", "text": "**", "dx": 3, "dy": 5, "fontSize": 17, "color": "#333333"}, "encoding": {"x": {"datum": 21, "type": "ordinal"}, "y": {"datum": 128, "type": "quantitative"}}}
    ]},
    {"width": 105, "height": 150, "data": {"values": []}, "mark": "point"},
    {"width": 90, "height": 150, "title": "G", "layer": [
      {"data": {"name": "GF"}, "mark": "point", "encoding": {
        "x": {"field": "t", "type": "ordinal", "axis": {"values": [5, 21, 35], "title": "Temperatures", "titleX": 97, "titlePadding": 19}},
        "y": {"field": "v", "type": "quantitative", "scale": {"domain": [0, 24]}, "axis": {"values": [0, 12, 24], "title": ["SI sucrase activity", "(x 1000 U / g)"], "titlePadding": -2}},
        "color": {"field": "t", "type": "ordinal", "legend": {"orient": "none", "legendX": 95, "legendY": -82, "direction": "horizontal", "title": null, "labelExpr": "datum.label + '°C'"}}}},
      {"data": {"values": [{}]}, "mark": {"type": "text", "text": "♀", "dx": 3}, "encoding": {"x": {"datum": 9, "type": "ordinal"}, "y": {"datum": 22.3, "type": "quantitative"}}},
      {"data": {"values": [{}]}, "mark": {"type": "text", "text": "**", "dx": 3, "dy": 5, "fontSize": 17, "color": "#333333"}, "encoding": {"x": {"datum": 21, "type": "ordinal"}, "y": {"datum": 19.7, "type": "quantitative"}}}
    ]},
    {"width": 9, "height": 150, "data": {"values": []}, "mark": "point"},
    {"width": 95, "height": 150, "layer": [
      {"data": {"name": "GM"}, "mark": "point", "encoding": {
        "x": {"field": "t", "type": "ordinal", "scale": {"padding": 1.0, "align": 0.56}, "axis": {"values": [5, 21, 35], "title": null}},
        "y": {"field": "v", "type": "quantitative", "scale": {"domain": [0, 24]}, "axis": {"values": [0, 12, 24], "labels": false, "title": null}},
        "color": {"field": "t", "type": "ordinal", "legend": {"orient": "none", "legendX": 95, "legendY": -82, "direction": "horizontal", "title": null, "labelExpr": "datum.label + '°C'"}}}},
      {"data": {"values": [{}]}, "mark": {"type": "text", "text": "♂", "dx": 4}, "encoding": {"x": {"datum": 9, "type": "ordinal"}, "y": {"datum": 22.3, "type": "quantitative"}}},
      {"data": {"values": [{}]}, "mark": {"type": "text", "text": "**", "dx": 0, "dy": 5, "fontSize": 17, "color": "#333333"}, "encoding": {"x": {"datum": 25, "type": "ordinal"}, "y": {"datum": 18.9, "type": "quantitative"}}}
    ]},
    {"width": 103, "height": 150, "data": {"values": []}, "mark": "point"},
    {"width": 90, "height": 150, "title": "H", "layer": [
      {"data": {"name": "HF"}, "mark": "point", "encoding": {
        "x": {"field": "t", "type": "ordinal", "axis": {"values": [5, 21, 35], "title": "Temperatures", "titleX": 97, "titlePadding": 19}},
        "y": {"field": "v", "type": "quantitative", "scale": {"domain": [0, 14]}, "axis": {"values": [0, 7, 14], "title": ["SI aminopeptidase", "activity (U / g)"], "titlePadding": -8}},
        "color": {"field": "t", "type": "ordinal", "legend": {"orient": "none", "legendX": 95, "legendY": -82, "direction": "horizontal", "title": null, "labelExpr": "datum.label + '°C'"}}}},
      {"data": {"values": [{}]}, "mark": {"type": "text", "text": "♀", "dx": 3}, "encoding": {"x": {"datum": 9, "type": "ordinal"}, "y": {"datum": 13, "type": "quantitative"}}}
    ]},
    {"width": 9, "height": 150, "data": {"values": []}, "mark": "point"},
    {"width": 95, "height": 150, "layer": [
      {"data": {"name": "HM"}, "mark": "point", "encoding": {
        "x": {"field": "t", "type": "ordinal", "scale": {"padding": 1.0, "align": 0.5}, "axis": {"values": [5, 21, 35], "title": null}},
        "y": {"field": "v", "type": "quantitative", "scale": {"domain": [0, 14]}, "axis": {"values": [0, 7, 14], "labels": false, "title": null}},
        "color": {"field": "t", "type": "ordinal", "legend": {"orient": "none", "legendX": 95, "legendY": -82, "direction": "horizontal", "title": null, "labelExpr": "datum.label + '°C'"}}}},
      {"data": {"values": [{}]}, "mark": {"type": "text", "text": "♂", "dx": 4}, "encoding": {"x": {"datum": 9, "type": "ordinal"}, "y": {"datum": 13, "type": "quantitative"}}},
      {"data": {"values": [{}]}, "mark": {"type": "text", "text": "**", "dx": 3, "dy": 5, "fontSize": 17, "color": "#333333"}, "encoding": {"x": {"datum": 21, "type": "ordinal"}, "y": {"datum": 10.6, "type": "quantitative"}}}
    ]}
  ],
  "config": {
    "font": "Lato",
    "view": {"stroke": null},
    "range": {"ordinal": ["#000000", "#707070", "#ababab", "#92b8e4", "#0000ff", "#98e896", "#10e6e0", "#00c000", "#f9b57e", "#ff55c8", "#ff0000"]},
    "scale": {"pointPadding": 0.625},
    "point": {"filled": true, "size": 24, "opacity": 1},
    "text": {"font": "DejaVu Sans", "fontSize": 20, "color": "#555555", "baseline": "middle"},
    "title": {"font": "Lato", "fontSize": 24, "fontWeight": "normal", "anchor": "start", "frame": "group", "offset": 1, "dx": 3, "color": "black"},
    "axis": {"grid": false, "domainColor": "black", "domainWidth": 2, "tickColor": "black", "tickWidth": 2, "labelColor": "black", "labelFont": "Lato", "labelFontSize": 19, "titleFont": "Lato", "titleFontSize": 19, "titleFontWeight": "normal", "titleColor": "black"},
    "axisX": {"tickSize": 10, "labelPadding": 7, "labelAngle": 0},
    "axisY": {"tickSize": 7, "labelPadding": 4, "minExtent": 43, "maxExtent": 43, "titlePadding": 5, "titleLineHeight": 29},
    "legend": {"symbolType": "square", "symbolSize": 180, "symbolStrokeWidth": 0, "symbolOpacity": 1, "labelFont": "Lato", "labelFontSize": 18, "labelFontWeight": "bold", "labelColor": "black", "labelOffset": 3, "columnPadding": 13.5}
  }
}
